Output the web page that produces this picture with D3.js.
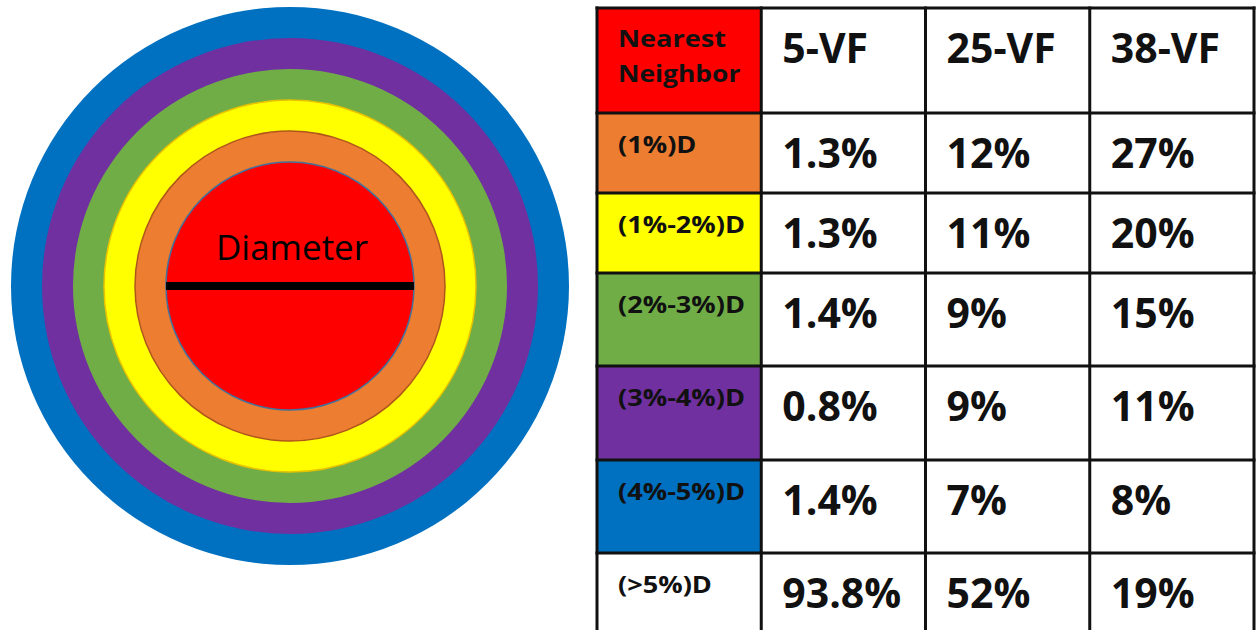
<!DOCTYPE html>
<html lang="en">
<head>
    <meta charset="UTF-8">
    <style>
        body {
            margin: 0;
            background: #fff;
        }
        text {
            font-family: "Open Sans", sans-serif;
            fill: #111;
        }
        .grid line {
            stroke: #111;
            stroke-width: 3px;
        }
    </style>
    <script src="https://d3js.org/d3.v7.min.js"></script>
</head>
<body>
    <svg width="1256" height="630"></svg>

<script>
    // rings, innermost first
    var bands = ["Nearest Neighbor", "(1%)D", "(1%-2%)D", "(2%-3%)D", "(3%-4%)D", "(4%-5%)D", "(>5%)D"];
    var bandColors = ["#FF0000", "#ED7D31", "#FFFF00", "#70AD47", "#7030A0", "#0070C0", "#FFFFFF"];
    var columns = ["5-VF", "25-VF", "38-VF"];
    var vf5 = [1.3, 1.3, 1.4, 0.8, 1.4, 93.8];
    var vf25 = [12, 11, 9, 9, 7, 52];
    var vf38 = [27, 20, 15, 11, 8, 19];
    var decimals = [1, 0, 0];

    var svg = d3.select("svg");

    // ---- concentric circle ----
    var cx = 290, cy = 286;
    var ringIdx = d3.range(6);
    var radius = d3.scaleLinear().domain([0, 5]).range([124, 279]);
    var ringStroke = ["#41719C", "#B0561C", "#E6C200", "none", "none", "none"];

    svg.append("g").selectAll("circle")
        .data(ringIdx.slice().reverse()).enter()
        .append("circle")
        .attr("cx", cx).attr("cy", cy)
        .attr("r", function(d) { return radius(d); })
        .attr("fill", function(d) { return bandColors[d]; })
        .attr("stroke", function(d) { return ringStroke[d]; })
        .attr("stroke-width", 1.5);

    svg.append("line")
        .attr("x1", cx - radius(0)).attr("x2", cx + radius(0))
        .attr("y1", cy).attr("y2", cy)
        .attr("stroke", "#000").attr("stroke-width", 8);

    svg.append("text")
        .attr("x", cx + 2).attr("y", cy - 26)
        .attr("text-anchor", "middle")
        .style("font-size", "35px")
        .style("fill", "#000")
        .text("Diameter");

    // ---- table ----
    var rowHeights = [105, 80, 80, 93, 94, 93, 90];
    var rowTops = [8];
    rowHeights.forEach(function(h, i) { rowTops.push(rowTops[i] + h); });

    var x = d3.scaleBand().domain(["label"].concat(columns)).range([597, 1254]);
    var colValues = [vf5, vf25, vf38];

    var cells = svg.append("g");
    cells.selectAll("rect.band")
        .data(bands).enter()
        .append("rect")
        .attr("x", x("label"))
        .attr("y", function(d, i) { return rowTops[i]; })
        .attr("width", x.bandwidth())
        .attr("height", function(d, i) { return rowHeights[i]; })
        .attr("fill", function(d, i) { return bandColors[i]; });

    // row labels (slightly stretched, like the original)
    var labelG = svg.append("g");
    labelG.append("text")
        .attr("transform", "translate(" + (x("label") + 21) + ",47) scale(1.13,1)")
        .style("font-size", "24px").style("font-weight", 700)
        .text("Nearest");
    labelG.append("text")
        .attr("transform", "translate(" + (x("label") + 21) + ",82) scale(1.1,1)")
        .style("font-size", "24px").style("font-weight", 700)
        .text("Neighbor");
    labelG.selectAll("text.row")
        .data(bands.slice(1)).enter()
        .append("text")
        .attr("class", "row")
        .attr("transform", function(d, i) {
            return "translate(" + (x("label") + 21) + "," + (rowTops[i + 1] + 40) + ") scale(1.18,1)";
        })
        .style("font-size", "23px").style("font-weight", 700)
        .text(function(d) { return d; });

    // column headers
    svg.append("g").selectAll("text")
        .data(columns).enter()
        .append("text")
        .attr("x", function(d) { return x(d) + 21; })
        .attr("y", rowTops[0] + 55)
        .style("font-size", "41px").style("font-weight", 700)
        .text(function(d) { return d; });

    // values
    columns.forEach(function(col, c) {
        var fmt = d3.format("." + decimals[c] + "f");
        svg.append("g").selectAll("text")
            .data(colValues[c]).enter()
            .append("text")
            .attr("x", x(col) + 21)
            .attr("y", function(d, i) { return rowTops[i + 1] + 55; })
            .style("font-size", "41px").style("font-weight", 700)
            .text(function(d) { return fmt(d) + "%"; });
    });

    // grid lines
    var grid = svg.append("g").attr("class", "grid");
    grid.selectAll("line.h")
        .data(rowTops.slice(0, 7)).enter()
        .append("line")
        .attr("x1", x("label") - 1.5).attr("x2", 1254 + 1.5)
        .attr("y1", function(d) { return d; }).attr("y2", function(d) { return d; });
    grid.selectAll("line.v")
        .data(x.domain().concat(["end"])).enter()
        .append("line")
        .attr("x1", function(d) { return d === "end" ? 1254 : x(d); })
        .attr("x2", function(d) { return d === "end" ? 1254 : x(d); })
        .attr("y1", rowTops[0] - 1.5).attr("y2", 640);
</script>
</body>
</html>
